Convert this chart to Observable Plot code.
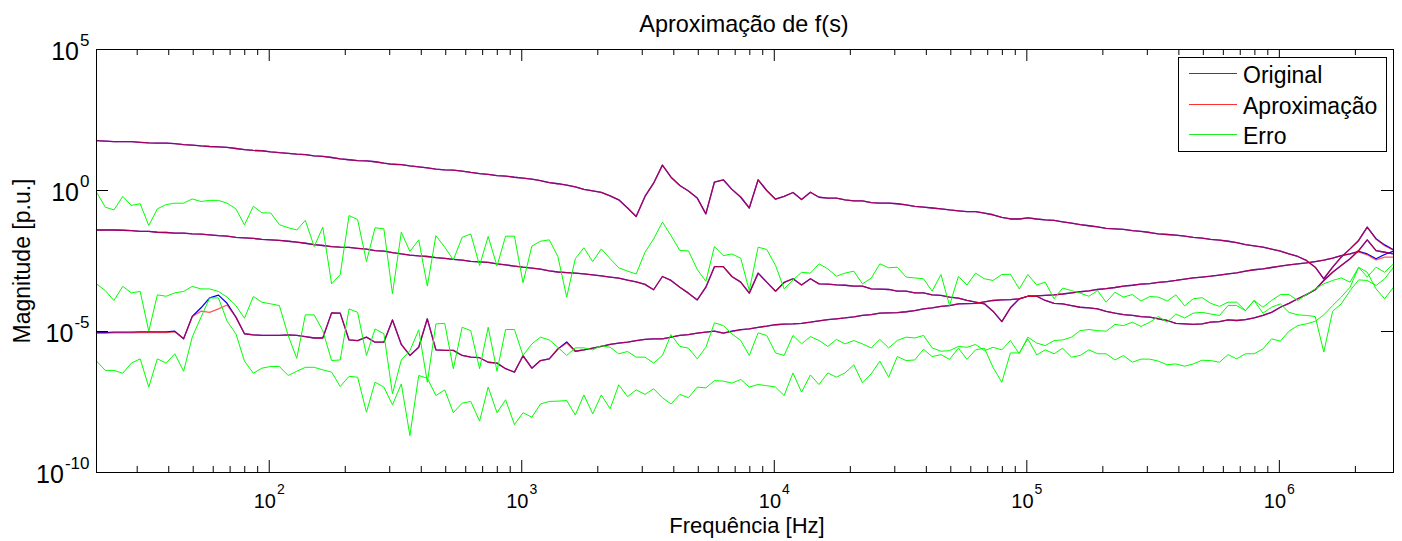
<!DOCTYPE html>
<html lang="pt">
<head>
<meta charset="utf-8">
<script src="https://cdn.jsdelivr.net/npm/d3@7"></script>
<script src="https://cdn.jsdelivr.net/npm/@observablehq/plot@0.6"></script>
<style>
  html, body { margin: 0; padding: 0; background: #fff; }
  body { font-family: "Liberation Sans", Arial, Helvetica, sans-serif; }
  #fig { position: relative; width: 1402px; height: 541px; overflow: hidden; background: #fff; }
  #title { position: absolute; left: 0; width: 1488px; top: 13px; text-align: center; font-size: 23.4px; line-height: 23px; color: #000; }
  #chart { position: absolute; left: 0; top: 40px; }
  #legend { position: absolute; left: 1178px; top: 57px; width: 209px; height: 95px; box-sizing: border-box; border: 1px solid #000; background: #fff; }
  .sw { position: absolute; left: 10px; width: 48px; height: 1px; }
  .lb { position: absolute; left: 64px; font-size: 23px; line-height: 23px; white-space: nowrap; color: #000; }
</style>
</head>
<body>
<div id="fig">
  <div id="title">Aproximação de f(s)</div>
  <div id="chart"></div>
  <div id="legend">
    <div class="sw" style="top:15px;background:#3030ff"></div><div class="lb" style="top:6px">Original</div>
    <div class="sw" style="top:46px;background:#ff3030"></div><div class="lb" style="top:37px">Aproximação</div>
    <div class="sw" style="top:76px;background:#20f020"></div><div class="lb" style="top:67px">Erro</div>
  </div>
</div>
<script>
// log10 of frequency [Hz] of each sample
const logFreq = [1.316,1.351,1.385,1.420,1.454,1.489,1.523,1.557,1.592,1.626,
1.661,1.695,1.730,1.764,1.799,1.833,1.868,1.902,1.937,1.971,
2.006,2.040,2.075,2.109,2.143,2.178,2.212,2.247,2.281,2.316,
2.350,2.385,2.419,2.454,2.488,2.523,2.557,2.592,2.626,2.660,
2.695,2.729,2.764,2.798,2.833,2.867,2.902,2.936,2.971,3.005,
3.040,3.074,3.109,3.143,3.178,3.212,3.246,3.281,3.315,3.350,
3.384,3.419,3.453,3.488,3.522,3.557,3.591,3.626,3.660,3.695,
3.729,3.763,3.798,3.832,3.867,3.901,3.936,3.970,4.005,4.039,
4.074,4.108,4.143,4.177,4.212,4.246,4.280,4.315,4.349,4.384,
4.418,4.453,4.487,4.522,4.556,4.591,4.625,4.660,4.694,4.729,
4.763,4.797,4.832,4.866,4.901,4.935,4.970,5.004,5.039,5.073,
5.108,5.142,5.177,5.211,5.246,5.280,5.314,5.349,5.383,5.418,
5.452,5.487,5.521,5.556,5.590,5.625,5.659,5.694,5.728,5.763,
5.797,5.831,5.866,5.900,5.935,5.969,6.004,6.038,6.073,6.107,
6.142,6.176,6.211,6.245,6.280,6.314,6.348,6.383,6.417,6.452];

// log10 of magnitude [p.u.]
const originalSup = [1.77,1.75,1.73,1.73,1.73,1.71,1.69,1.68,1.68,1.66,
1.63,1.61,1.58,1.56,1.55,1.53,1.49,1.45,1.42,1.41,
1.37,1.34,1.32,1.29,1.27,1.23,1.21,1.17,1.12,1.09,
1.06,1.05,1.02,0.97,0.93,0.92,0.87,0.84,0.80,0.76,
0.73,0.72,0.69,0.64,0.60,0.57,0.53,0.51,0.47,0.44,
0.40,0.35,0.28,0.24,0.19,0.13,0.04,-0.01,-0.07,-0.19,
-0.33,-0.62,-0.92,-0.21,0.26,0.90,0.47,0.18,-0.02,-0.27,
-0.83,0.30,0.38,0.04,-0.24,-0.62,0.38,0.00,-0.31,-0.21,
-0.07,-0.32,-0.06,-0.24,-0.27,-0.27,-0.33,-0.37,-0.37,-0.43,
-0.45,-0.45,-0.47,-0.51,-0.56,-0.59,-0.62,-0.65,-0.69,-0.72,
-0.75,-0.75,-0.80,-0.86,-0.95,-1.01,-1.01,-0.97,-1.01,-1.04,
-1.06,-1.11,-1.16,-1.21,-1.25,-1.29,-1.34,-1.36,-1.38,-1.42,
-1.45,-1.49,-1.54,-1.56,-1.58,-1.62,-1.66,-1.69,-1.73,-1.76,
-1.80,-1.85,-1.92,-1.96,-2.01,-2.08,-2.15,-2.25,-2.34,-2.48,
-2.72,-3.13,-2.72,-2.36,-2.07,-1.77,-1.30,-1.71,-1.93,-2.10];

const originalMeio = [-1.40,-1.40,-1.40,-1.41,-1.42,-1.45,-1.45,-1.48,-1.49,-1.51,
-1.51,-1.54,-1.55,-1.57,-1.60,-1.62,-1.66,-1.68,-1.70,-1.73,
-1.75,-1.77,-1.80,-1.83,-1.87,-1.92,-1.95,-1.99,-2.01,-2.02,
-2.05,-2.08,-2.13,-2.15,-2.20,-2.25,-2.29,-2.32,-2.34,-2.38,
-2.41,-2.44,-2.47,-2.51,-2.53,-2.55,-2.60,-2.64,-2.68,-2.72,
-2.75,-2.79,-2.85,-2.89,-2.91,-2.93,-2.96,-2.99,-3.03,-3.07,
-3.11,-3.18,-3.24,-3.33,-3.52,-3.05,-3.19,-3.43,-3.64,-3.88,
-3.43,-2.70,-2.70,-3.05,-3.25,-3.64,-2.93,-3.25,-3.57,-3.26,
-3.13,-3.35,-3.13,-3.31,-3.32,-3.35,-3.36,-3.39,-3.39,-3.49,
-3.50,-3.51,-3.57,-3.57,-3.63,-3.63,-3.70,-3.72,-3.78,-3.82,
-3.90,-3.96,-4.02,-4.28,-4.65,-4.16,-3.84,-3.75,-3.75,-3.90,
-4.00,-4.02,-4.08,-4.14,-4.16,-4.20,-4.29,-4.35,-4.40,-4.43,
-4.47,-4.49,-4.55,-4.61,-4.71,-4.73,-4.75,-4.73,-4.67,-4.65,
-4.59,-4.61,-4.58,-4.52,-4.43,-4.32,-4.14,-4.00,-3.84,-3.69,
-3.52,-3.19,-2.90,-2.66,-2.42,-2.13,-1.75,-2.13,-2.19,-2.25];

const originalInf = [-5.04,-5.04,-5.02,-5.02,-5.02,-5.01,-5.01,-5.01,-5.01,-4.99,
-5.26,-4.47,-4.16,-3.81,-3.71,-4.00,-4.49,-5.08,-5.12,-5.14,
-5.14,-5.14,-5.12,-5.14,-5.18,-5.23,-5.23,-4.34,-4.35,-5.30,
-5.32,-5.20,-5.38,-5.38,-4.59,-5.46,-5.85,-5.56,-4.55,-5.65,
-5.67,-5.67,-5.85,-5.91,-5.93,-6.09,-6.12,-6.32,-6.44,-5.86,
-6.30,-6.03,-5.97,-5.62,-5.37,-5.70,-5.65,-5.59,-5.53,-5.46,
-5.41,-5.38,-5.32,-5.28,-5.26,-5.26,-5.20,-5.14,-5.11,-5.06,
-5.02,-4.99,-5.06,-4.99,-4.93,-4.91,-4.85,-4.81,-4.76,-4.74,
-4.73,-4.71,-4.67,-4.62,-4.58,-4.55,-4.52,-4.48,-4.43,-4.40,
-4.35,-4.34,-4.33,-4.30,-4.26,-4.20,-4.16,-4.11,-4.08,-4.02,
-4.01,-4.00,-3.95,-3.90,-3.88,-3.87,-3.84,-3.75,-3.74,-3.72,
-3.70,-3.67,-3.63,-3.59,-3.56,-3.51,-3.48,-3.44,-3.39,-3.36,
-3.32,-3.30,-3.26,-3.23,-3.19,-3.14,-3.10,-3.07,-3.04,-3.00,
-2.96,-2.92,-2.86,-2.81,-2.78,-2.73,-2.68,-2.64,-2.60,-2.57,
-2.52,-2.47,-2.40,-2.31,-2.25,-2.16,-2.25,-2.42,-2.27,-2.15];

const aproxSup = [1.77,1.75,1.73,1.73,1.73,1.71,1.69,1.68,1.68,1.66,
1.63,1.61,1.58,1.56,1.55,1.53,1.49,1.45,1.42,1.41,
1.37,1.34,1.32,1.29,1.27,1.23,1.21,1.17,1.12,1.09,
1.06,1.05,1.02,0.97,0.93,0.92,0.87,0.84,0.80,0.76,
0.73,0.72,0.69,0.64,0.60,0.57,0.53,0.51,0.47,0.44,
0.40,0.35,0.28,0.24,0.19,0.13,0.04,-0.01,-0.07,-0.19,
-0.33,-0.62,-0.92,-0.21,0.26,0.90,0.47,0.18,-0.02,-0.27,
-0.83,0.30,0.38,0.04,-0.22,-0.62,0.38,0.00,-0.31,-0.21,
-0.07,-0.32,-0.06,-0.24,-0.27,-0.27,-0.33,-0.37,-0.37,-0.43,
-0.45,-0.45,-0.47,-0.51,-0.56,-0.59,-0.62,-0.65,-0.69,-0.72,
-0.75,-0.75,-0.80,-0.86,-0.95,-1.01,-1.01,-0.97,-1.01,-1.04,
-1.06,-1.11,-1.16,-1.21,-1.25,-1.29,-1.34,-1.36,-1.38,-1.42,
-1.45,-1.49,-1.54,-1.56,-1.58,-1.62,-1.66,-1.69,-1.73,-1.76,
-1.80,-1.85,-1.92,-1.96,-2.01,-2.08,-2.15,-2.25,-2.34,-2.48,
-2.72,-3.13,-2.72,-2.36,-2.07,-1.77,-1.30,-1.73,-1.96,-2.12];

const aproxMeio = [-1.40,-1.40,-1.40,-1.41,-1.42,-1.45,-1.45,-1.48,-1.49,-1.51,
-1.51,-1.54,-1.55,-1.57,-1.60,-1.62,-1.66,-1.68,-1.70,-1.73,
-1.75,-1.77,-1.80,-1.83,-1.87,-1.92,-1.95,-1.99,-2.01,-2.02,
-2.05,-2.08,-2.13,-2.15,-2.20,-2.25,-2.29,-2.32,-2.34,-2.38,
-2.41,-2.44,-2.47,-2.51,-2.53,-2.55,-2.60,-2.64,-2.68,-2.72,
-2.75,-2.79,-2.85,-2.89,-2.91,-2.93,-2.96,-2.99,-3.03,-3.07,
-3.11,-3.18,-3.24,-3.33,-3.52,-3.05,-3.19,-3.43,-3.64,-3.88,
-3.43,-2.70,-2.70,-3.05,-3.25,-3.64,-2.93,-3.25,-3.57,-3.26,
-3.13,-3.35,-3.13,-3.31,-3.32,-3.35,-3.36,-3.39,-3.39,-3.49,
-3.50,-3.51,-3.57,-3.57,-3.63,-3.63,-3.70,-3.72,-3.78,-3.82,
-3.90,-3.96,-4.02,-4.28,-4.65,-4.16,-3.84,-3.75,-3.75,-3.90,
-4.00,-4.02,-4.08,-4.14,-4.16,-4.20,-4.29,-4.35,-4.40,-4.43,
-4.47,-4.49,-4.55,-4.61,-4.71,-4.73,-4.75,-4.73,-4.67,-4.65,
-4.59,-4.61,-4.58,-4.52,-4.43,-4.32,-4.14,-4.00,-3.84,-3.69,
-3.52,-3.19,-2.90,-2.66,-2.42,-2.13,-1.75,-2.13,-2.19,-2.25];

const aproxInf = [-5.06,-5.06,-5.05,-5.05,-5.05,-5.04,-5.04,-5.04,-5.04,-5.01,
-5.26,-4.47,-4.28,-4.32,-4.20,-4.06,-4.49,-5.08,-5.12,-5.14,
-5.14,-5.14,-5.12,-5.14,-5.18,-5.23,-5.23,-4.34,-4.35,-5.30,
-5.32,-5.20,-5.38,-5.38,-4.59,-5.46,-5.85,-5.56,-4.55,-5.65,
-5.67,-5.67,-5.85,-5.91,-5.93,-6.09,-6.12,-6.32,-6.44,-5.86,
-6.30,-6.03,-5.97,-5.62,-5.41,-5.70,-5.65,-5.59,-5.53,-5.46,
-5.41,-5.38,-5.32,-5.28,-5.26,-5.26,-5.20,-5.14,-5.11,-5.06,
-5.02,-4.99,-5.06,-5.00,-4.94,-4.91,-4.85,-4.81,-4.76,-4.74,
-4.73,-4.71,-4.67,-4.62,-4.58,-4.55,-4.52,-4.48,-4.43,-4.40,
-4.35,-4.34,-4.33,-4.30,-4.26,-4.20,-4.16,-4.11,-4.08,-4.02,
-4.01,-4.00,-3.95,-3.90,-3.88,-3.87,-3.84,-3.75,-3.74,-3.72,
-3.70,-3.67,-3.63,-3.59,-3.56,-3.51,-3.48,-3.44,-3.39,-3.36,
-3.32,-3.30,-3.26,-3.23,-3.19,-3.14,-3.10,-3.07,-3.04,-3.00,
-2.96,-2.92,-2.86,-2.81,-2.78,-2.73,-2.68,-2.64,-2.60,-2.57,
-2.52,-2.47,-2.40,-2.31,-2.25,-2.18,-2.28,-2.46,-2.36,-2.36];

const erroSup = [-0.06,-0.59,-0.69,-0.21,-0.53,-0.47,-1.24,-0.65,-0.50,-0.45,
-0.45,-0.30,-0.39,-0.35,-0.35,-0.45,-0.65,-1.22,-0.56,-0.79,
-0.80,-1.21,-1.32,-1.40,-1.06,-1.99,-1.30,-3.31,-2.98,-0.89,
-1.03,-2.52,-1.32,-1.36,-3.66,-1.48,-2.16,-1.75,-3.39,-1.60,
-2.01,-2.46,-1.66,-1.54,-2.66,-1.63,-2.68,-1.62,-1.62,-3.27,
-1.97,-1.80,-1.75,-2.34,-3.78,-2.42,-2.03,-2.52,-2.07,-2.42,
-2.74,-2.86,-2.96,-2.19,-1.72,-1.12,-1.60,-2.13,-2.14,-2.80,
-3.22,-1.99,-2.31,-2.25,-2.40,-3.55,-2.01,-2.09,-2.66,-3.49,
-3.17,-2.90,-2.93,-2.60,-2.78,-3.04,-2.93,-2.86,-3.31,-3.11,
-2.60,-2.74,-2.72,-3.07,-3.10,-3.13,-3.57,-2.98,-4.08,-3.05,
-3.35,-2.93,-3.13,-3.19,-2.98,-2.97,-3.49,-2.98,-3.35,-3.25,
-3.84,-3.46,-3.55,-3.64,-3.75,-3.55,-3.96,-3.61,-3.78,-3.69,
-3.92,-3.76,-3.78,-3.92,-3.70,-4.09,-3.84,-3.80,-4.00,-4.11,
-3.96,-3.96,-4.26,-3.90,-4.14,-3.90,-3.69,-3.69,-3.90,-3.69,
-3.49,-3.31,-3.19,-3.10,-3.25,-2.72,-3.07,-2.72,-2.90,-2.60];

const erroMeio = [-3.31,-3.55,-3.90,-3.40,-3.63,-3.58,-4.99,-3.70,-3.75,-3.63,
-3.58,-3.40,-3.49,-3.49,-3.58,-3.78,-4.08,-4.53,-3.76,-3.96,
-4.02,-4.08,-5.14,-5.95,-4.41,-4.41,-4.97,-6.03,-6.01,-4.20,
-4.32,-5.85,-4.91,-5.08,-7.21,-6.01,-5.68,-4.94,-6.80,-4.73,
-4.71,-6.32,-4.85,-4.97,-6.32,-4.85,-6.41,-4.93,-4.93,-5.85,
-5.44,-5.20,-5.30,-5.56,-5.85,-5.58,-5.58,-5.65,-5.50,-5.56,
-5.79,-5.71,-5.91,-5.91,-6.12,-5.85,-5.11,-5.53,-5.59,-5.97,
-5.56,-4.69,-4.79,-5.08,-5.32,-5.85,-5.05,-5.14,-5.76,-5.85,
-5.14,-5.44,-5.18,-5.32,-5.53,-5.28,-5.44,-5.32,-5.44,-5.58,
-5.28,-5.58,-5.32,-5.20,-5.23,-5.14,-5.58,-5.70,-5.68,-5.53,
-5.56,-5.46,-5.68,-5.56,-5.65,-5.32,-5.79,-5.20,-5.41,-5.50,
-5.32,-5.30,-5.20,-4.97,-4.93,-4.97,-4.99,-4.75,-4.79,-4.67,
-4.82,-4.67,-4.47,-4.67,-4.38,-4.52,-4.35,-4.32,-4.38,-4.43,
-4.08,-4.08,-4.26,-3.90,-4.35,-4.14,-4.02,-4.32,-4.41,-4.43,
-4.47,-5.73,-4.28,-4.02,-3.55,-3.17,-3.19,-3.37,-3.13,-2.72];

const erroInf = [-6.05,-6.38,-6.38,-6.48,-6.12,-5.97,-6.97,-5.97,-6.12,-5.79,
-6.41,-5.20,-4.49,-3.81,-3.81,-4.63,-5.08,-6.05,-6.48,-6.30,
-6.24,-6.24,-6.56,-6.41,-6.27,-6.27,-6.36,-6.44,-6.95,-6.59,
-6.62,-7.86,-6.80,-6.97,-7.60,-6.86,-8.69,-6.56,-6.66,-7.27,
-7.07,-7.88,-7.54,-7.48,-8.18,-6.97,-7.88,-7.42,-8.30,-7.88,
-8.04,-7.57,-7.48,-7.47,-7.45,-7.96,-7.25,-7.92,-7.25,-7.74,
-6.89,-7.31,-7.07,-7.23,-7.03,-7.35,-7.57,-7.23,-7.35,-6.97,
-7.00,-6.74,-6.76,-6.83,-6.70,-6.97,-6.88,-6.92,-6.97,-7.27,
-6.47,-7.15,-6.54,-6.88,-6.47,-6.62,-6.47,-6.18,-6.82,-6.50,
-6.05,-6.62,-5.89,-6.03,-6.01,-5.63,-5.89,-5.82,-5.99,-5.59,
-5.99,-5.65,-5.59,-6.27,-6.80,-5.76,-5.76,-5.26,-5.83,-5.65,
-5.79,-5.59,-5.91,-5.85,-5.65,-5.79,-5.79,-6.01,-5.85,-6.09,
-5.98,-5.98,-6.05,-6.18,-6.15,-6.23,-6.15,-6.02,-6.03,-6.09,
-5.82,-5.97,-5.79,-5.79,-5.62,-5.26,-5.34,-4.99,-4.79,-4.73,
-4.64,-4.41,-4.08,-3.78,-3.43,-2.72,-2.90,-3.49,-3.84,-3.43];

const xMajorTicks = [1e2, 1e3, 1e4, 1e5, 1e6];
const xMinorTicks = [30,40,50,60,70,80,90,
  200,300,400,500,600,700,800,900,
  2000,3000,4000,5000,6000,7000,8000,9000,
  2e4,3e4,4e4,5e4,6e4,7e4,8e4,9e4,
  2e5,3e5,4e5,5e5,6e5,7e5,8e5,9e5,
  2e6];
const yMajorTicks = [1e5, 1e0, 1e-5, 1e-10];

const W = 1402, H = 501, mL = 96, mR = 9, mT = 9, mB = 69;
const innerW = W - mL - mR, innerH = H - mT - mB;
const tickMajor = 12, tickMinor = 6;

const pts = vals => vals.map((v, i) => ({f: Math.pow(10, logFreq[i]), m: Math.pow(10, v)}));
const lineOf = (vals, stroke, extra = {}) =>
  Plot.line(pts(vals), {x: "f", y: "m", stroke, strokeWidth: 1.3, ...extra});

const chart = Plot.plot({
  width: W, height: H,
  marginLeft: mL, marginRight: mR, marginTop: mT, marginBottom: mB,
  style: {fontFamily: '"Liberation Sans", Arial, Helvetica, sans-serif', background: "#fff", color: "#000", overflow: "visible"},
  x: {type: "log", domain: [Math.pow(10, logFreq[0]), Math.pow(10, logFreq[logFreq.length - 1])], axis: null},
  y: {type: "log", domain: [1e-10, 1e5], axis: null},
  marks: [
    ...[originalSup, originalMeio, originalInf].map(v => lineOf(v, "#0000ff")),
    ...[aproxSup, aproxMeio, aproxInf].map(v => lineOf(v, "#ff0000", {strokeOpacity: 0.65})),
    ...[erroSup, erroMeio, erroInf].map(v => lineOf(v, "#00ff00", {strokeWidth: 1})),
    Plot.tickX(xMajorTicks, {x: d => d, insetTop: innerH - tickMajor, stroke: "#000"}),
    Plot.tickX(xMajorTicks, {x: d => d, insetBottom: innerH - tickMajor, stroke: "#000"}),
    Plot.tickX(xMinorTicks, {x: d => d, insetTop: innerH - tickMinor, stroke: "#000"}),
    Plot.tickX(xMinorTicks, {x: d => d, insetBottom: innerH - tickMinor, stroke: "#000"}),
    Plot.tickY(yMajorTicks, {y: d => d, insetRight: innerW - tickMajor, stroke: "#000"}),
    Plot.tickY(yMajorTicks, {y: d => d, insetLeft: innerW - tickMajor, stroke: "#000"}),
    Plot.frame({stroke: "#000", strokeWidth: 1}),
    Plot.text(xMajorTicks, {x: d => d, text: d => `10^${Math.round(Math.log10(d))}`,
      frameAnchor: "bottom", lineAnchor: "top", dy: 21, fontSize: 20}),
    Plot.text(yMajorTicks, {y: d => d, text: d => `10^${Math.round(Math.log10(d))}`,
      frameAnchor: "left", textAnchor: "end", dx: -7, dy: 2, fontSize: 25}),
    Plot.text(["Frequência [Hz]"], {text: d => d, frameAnchor: "bottom", textAnchor: "middle", lineAnchor: "bottom", dy: 60, dx: 2, fontSize: 22}),
    Plot.text(["Magnitude [p.u.]"], {text: d => d, frameAnchor: "left", textAnchor: "middle", rotate: -90, dx: -74, fontSize: 23})
  ]
});

// superscript exponents for the "10^k" tick labels
chart.querySelectorAll("text").forEach(t => {
  const m = /^10\^(-?\d+)$/.exec(t.textContent);
  if (!m) return;
  const g = t.closest("g[font-size]");
  const fs = g ? +g.getAttribute("font-size") : 20;
  const isY = fs > 23;
  t.textContent = "10";
  const sp = document.createElementNS("http://www.w3.org/2000/svg", "tspan");
  sp.setAttribute("font-size", isY ? 17 : 14);
  sp.setAttribute("dy", -14);
  sp.setAttribute("dx", 1);
  sp.textContent = m[1];
  t.appendChild(sp);
});

document.getElementById("chart").appendChild(chart);
</script>
</body>
</html>
